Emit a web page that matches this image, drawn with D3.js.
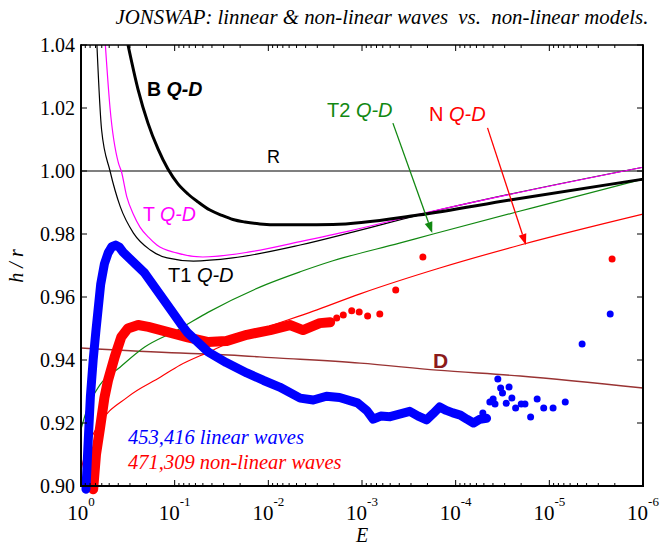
<!DOCTYPE html>
<html>
<head>
<meta charset="utf-8">
<script src="https://cdn.jsdelivr.net/npm/d3@7"></script>
<style>
body { margin: 0; background: #fff; }
svg { display: block; }
</style>
</head>
<body>
<div id="chart"></div>
<script>
// values: [log10(E), h/r]
var bQD  = [[-0.502,1.040],[-0.608,1.0260],[-0.715,1.0152],[-0.822,1.0070],[-0.928,1.0006],[-1.035,0.9959],[-1.142,0.9927],[-1.249,0.9902],[-1.377,0.9876],[-1.505,0.9859],[-1.622,0.9846],[-1.750,0.9838],[-1.910,0.9832],[-2.124,0.9829],[-2.34,0.9829],[-2.69,0.9830],[-3.60,0.9860],[-4.58,0.9908],[-6.00,0.9974]];
var tQD  = [[-0.26,1.040],[-0.31,1.020],[-0.40,1.0025],[-0.43,1.000],[-0.49,0.9917],[-0.56,0.9862],[-0.63,0.9822],[-0.72,0.9790],[-0.81,0.9765],[-1.02,0.9740],[-1.30,0.9727],[-1.80,0.9743],[-2.34,0.9776],[-2.87,0.9810],[-3.60,0.9862],[-6.00,1.0012]];
var t1QD = [[-0.17,1.040],[-0.22,1.013],[-0.31,1.000],[-0.42,0.9886],[-0.56,0.9803],[-0.74,0.9749],[-0.92,0.9724],[-1.20,0.9714],[-1.62,0.9724],[-2.34,0.9765],[-2.90,0.9806],[-3.60,0.9860],[-6.00,1.0012]];
var t2QD = [[0,0.918],[-0.06,0.924],[-0.20,0.932],[-0.42,0.9378],[-0.68,0.9441],[-1.03,0.9495],[-1.36,0.9552],[-1.98,0.9640],[-2.34,0.9680],[-2.69,0.9715],[-3.40,0.9771],[-3.76,0.9800],[-4.82,0.9883],[-6.00,0.9974]];
var nQD  = [[0,0.905],[-0.05,0.911],[-0.18,0.919],[-0.50,0.9283],[-0.85,0.9346],[-1.06,0.9384],[-1.36,0.9425],[-1.77,0.9480],[-2.48,0.9555],[-2.98,0.9610],[-3.83,0.9692],[-4.69,0.9765],[-6.00,0.9863]];
var dLine = [[0,0.9438],[-1.06,0.9422],[-1.36,0.9419],[-2.12,0.9406],[-2.98,0.9390],[-3.80,0.9368],[-4.69,0.9349],[-6.00,0.9311]];
var rLine = [[0,1.000],[-6,1.000]];

var linearWaves = [[-0.053,0.899],[-0.07,0.910],[-0.10,0.9283],[-0.13,0.940],[-0.16,0.9495],[-0.21,0.9640],[-0.25,0.9705],[-0.29,0.9740],[-0.33,0.9760],[-0.37,0.9765],[-0.41,0.9758],[-0.45,0.9742],[-0.68,0.9676],[-0.96,0.9559],[-1.06,0.9517],[-1.14,0.9486],[-1.36,0.9425],[-1.55,0.9392],[-1.77,0.9359],[-1.95,0.9335],[-2.12,0.9314],[-2.34,0.9279],[-2.48,0.9273],[-2.62,0.9285],[-2.76,0.9281],[-2.95,0.9264],[-3.05,0.9240],[-3.12,0.9212],[-3.20,0.9222],[-3.30,0.9220],[-3.42,0.9230],[-3.51,0.9237],[-3.60,0.9222],[-3.69,0.9210],[-3.76,0.9230],[-3.83,0.9251],[-3.90,0.9240],[-3.97,0.9232],[-4.05,0.9225],[-4.12,0.9212],[-4.19,0.9200],[-4.26,0.9212],[-4.33,0.9215]];
var linearDots = [[-4.29,0.9232],[-4.365,0.9267],[-4.40,0.9276],[-4.42,0.9260],[-4.45,0.9340],[-4.48,0.9311],[-4.50,0.9295],[-4.54,0.9263],[-4.57,0.9314],[-4.60,0.9279],[-4.64,0.9248],[-4.70,0.9260],[-4.74,0.9260],[-4.80,0.9219],[-4.87,0.9276],[-4.94,0.9248],[-5.04,0.9248],[-5.17,0.9267],[-5.35,0.9451],[-5.65,0.9546]];
var nonlinWaves = [[-0.13,0.899],[-0.16,0.910],[-0.20,0.9178],[-0.25,0.9280],[-0.29,0.9337],[-0.36,0.9410],[-0.43,0.9473],[-0.50,0.9500],[-0.61,0.9511],[-0.72,0.9505],[-0.85,0.9495],[-1.00,0.9483],[-1.14,0.9472],[-1.36,0.9457],[-1.55,0.9460],[-1.77,0.9480],[-2.02,0.9495],[-2.23,0.9511],[-2.37,0.9495],[-2.55,0.9517],[-2.66,0.9520]];
var nonlinDots = [[-2.73,0.9533],[-2.80,0.9543],[-2.89,0.9556],[-2.97,0.9552],[-3.06,0.9540],[-3.19,0.9546],[-3.36,0.9622],[-3.65,0.9727],[-5.67,0.9721]];

var xMajor = [1, 1e-1, 1e-2, 1e-3, 1e-4, 1e-5, 1e-6];
var xExp = ["0", "-1", "-2", "-3", "-4", "-5", "-6"];
var yTicks = [0.90, 0.92, 0.94, 0.96, 0.98, 1.00, 1.02, 1.04];

// arrows: [from, to] in [log10(E), h/r]
var arrowT2 = [[-3.33,1.0152],[-3.75,0.9803]];
var arrowN  = [[-4.34,1.0137],[-4.75,0.9765]];

var w = 662, h = 546;
var x0 = 81, x1 = 643, y0 = 45, y1 = 486;
var serif = "'Liberation Serif', 'Times New Roman', serif";
var sans = "'Liberation Sans', Arial, sans-serif";

var x = d3.scaleLog().domain([1, 1e-6]).range([x0, x1]);
var y = d3.scaleLinear().domain([0.90, 1.04]).range([y1, y0]);

function px(d) { return x(Math.pow(10, d[0])); }
function py(d) { return y(d[1]); }

var svg = d3.select("#chart").append("svg")
    .attr("width", w)
    .attr("height", h);

svg.append("defs").append("clipPath").attr("id", "plot")
    .append("rect").attr("x", x0).attr("y", y0).attr("width", x1 - x0).attr("height", y1 - y0);

var smooth = d3.line().x(px).y(py).curve(d3.curveMonotoneX);
var straight = d3.line().x(px).y(py);

var models = svg.append("g").attr("clip-path", "url(#plot)").attr("fill", "none");
models.append("path").attr("d", straight(rLine)).attr("stroke", "#000").attr("stroke-width", 1.2);
models.append("path").attr("d", smooth(dLine)).attr("stroke", "#993333").attr("stroke-width", 1.4);
models.append("path").attr("d", smooth(nQD)).attr("stroke", "#ff0000").attr("stroke-width", 1.2);
models.append("path").attr("d", smooth(t2QD)).attr("stroke", "#118811").attr("stroke-width", 1.2);
models.append("path").attr("d", smooth(t1QD)).attr("stroke", "#000").attr("stroke-width", 1.2);
models.append("path").attr("d", smooth(tQD)).attr("stroke", "#ff00ff").attr("stroke-width", 1.2);
models.append("path").attr("d", smooth(bQD)).attr("stroke", "#000").attr("stroke-width", 3);

// measured waves
svg.append("path").attr("d", straight(nonlinWaves))
    .attr("fill", "none").attr("stroke", "#ff0000").attr("stroke-width", 10)
    .attr("stroke-linecap", "round").attr("stroke-linejoin", "round");
svg.append("g").selectAll("circle").data(nonlinDots).enter().append("circle")
    .attr("cx", px).attr("cy", py).attr("r", 3.5).attr("fill", "#ff0000");
svg.append("path").attr("d", straight(linearWaves))
    .attr("fill", "none").attr("stroke", "#0000ff").attr("stroke-width", 9)
    .attr("stroke-linecap", "round").attr("stroke-linejoin", "round");
svg.append("g").selectAll("circle").data(linearDots).enter().append("circle")
    .attr("cx", px).attr("cy", py).attr("r", 3.5).attr("fill", "#0000ff");

// arrows
function arrow(a, color) {
    var ax = px(a[0]), ay = py(a[0]), bx = px(a[1]), by = py(a[1]);
    var ang = Math.atan2(by - ay, bx - ax), len = 11, half = 4;
    var cx = bx - len * Math.cos(ang), cy = by - len * Math.sin(ang);
    svg.append("line").attr("x1", ax).attr("y1", ay).attr("x2", cx).attr("y2", cy)
        .attr("stroke", color).attr("stroke-width", 1.3);
    svg.append("path")
        .attr("d", "M" + bx + "," + by +
            "L" + (cx + half * Math.sin(ang)) + "," + (cy - half * Math.cos(ang)) +
            "L" + (cx - half * Math.sin(ang)) + "," + (cy + half * Math.cos(ang)) + "Z")
        .attr("fill", color);
}
arrow(arrowT2, "#118811");
arrow(arrowN, "#ff0000");

// axes: minor + major ticks pointing inside
var minor = [];
for (var k = 0; k < 6; k++) {
    for (var m = 2; m <= 9; m++) minor.push(m * Math.pow(10, -k - 1));
}
function xTicks(g, vals, len, dir) {
    g.selectAll("line.t").data(vals).enter().append("line")
        .attr("x1", function(d) { return x(d); }).attr("x2", function(d) { return x(d); })
        .attr("y1", 0).attr("y2", dir * len)
        .attr("stroke", "#000").attr("stroke-width", 1);
}
var gb = svg.append("g").attr("transform", "translate(0," + y1 + ")");
xTicks(gb, minor, 3, -1);
xTicks(gb, xMajor, 6, -1);
var gt = svg.append("g").attr("transform", "translate(0," + y0 + ")");
xTicks(gt, minor, 3, 1);
xTicks(gt, xMajor, 6, 1);

svg.append("g").selectAll("line").data(yTicks).enter().append("line")
    .attr("x1", x0).attr("x2", x0 + 6)
    .attr("y1", function(d) { return y(d); }).attr("y2", function(d) { return y(d); })
    .attr("stroke", "#000");
svg.append("g").selectAll("line").data(yTicks).enter().append("line")
    .attr("x1", x1).attr("x2", x1 - 6)
    .attr("y1", function(d) { return y(d); }).attr("y2", function(d) { return y(d); })
    .attr("stroke", "#000");

// frame
svg.append("line").attr("x1", x0).attr("x2", x1).attr("y1", y0).attr("y2", y0).attr("stroke", "#000").attr("stroke-width", 1.5);
svg.append("line").attr("x1", x0).attr("x2", x1).attr("y1", y1).attr("y2", y1).attr("stroke", "#000").attr("stroke-width", 2);
svg.append("line").attr("x1", x0).attr("x2", x0).attr("y1", y0 - 0.75).attr("y2", y1 + 1).attr("stroke", "#000").attr("stroke-width", 2);
svg.append("line").attr("x1", x1).attr("x2", x1).attr("y1", y0 - 0.75).attr("y2", y1 + 1).attr("stroke", "#000").attr("stroke-width", 2);

// tick labels
svg.append("g").selectAll("text").data(yTicks).enter().append("text")
    .attr("x", 75).attr("y", function(d) { return y(d) + 7; })
    .attr("text-anchor", "end")
    .attr("font-family", serif).attr("font-size", 20)
    .text(function(d) { return d.toFixed(2); });

var xl = svg.append("g").selectAll("text").data(xMajor).enter().append("text")
    .attr("x", function(d) { return x(d); }).attr("y", 520)
    .attr("text-anchor", "middle")
    .attr("font-family", serif).attr("font-size", 21);
xl.append("tspan").text("10");
xl.append("tspan").attr("dy", -14).attr("font-size", 13).text(function(d, i) { return xExp[i]; });

// axis titles and title
svg.append("text").attr("x", 362).attr("y", 542).attr("text-anchor", "middle")
    .attr("font-family", serif).attr("font-style", "italic").attr("font-size", 20).text("E");
svg.append("text").attr("transform", "translate(23,266) rotate(-90)").attr("text-anchor", "middle")
    .attr("font-family", serif).attr("font-style", "italic").attr("font-size", 20)
    .style("white-space", "pre").text("h / r");
svg.append("text").attr("x", 382).attr("y", 24).attr("text-anchor", "middle")
    .attr("font-family", serif).attr("font-style", "italic").attr("font-size", 20.8)
    .style("white-space", "pre")
    .text("JONSWAP: linnear & non-linear waves  vs.  non-linear models.");

// curve labels
function label(tx, ty, first, rest, color, size, bold) {
    var t = svg.append("text").attr("x", tx).attr("y", ty)
        .attr("font-family", sans).attr("font-size", size).attr("fill", color)
        .style("white-space", "pre");
    if (bold) t.attr("font-weight", "bold");
    t.append("tspan").text(first);
    if (rest) t.append("tspan").attr("font-style", "italic").text(rest);
}
label(147, 96, "B ", "Q-D", "#000", 19.5, true);
label(267, 163, "R", null, "#000", 18, false);
label(143, 221, "T ", "Q-D", "#ff00ff", 19.5, false);
label(168, 282, "T1 ", "Q-D", "#000", 20, false);
label(327, 117, "T2 ", "Q-D", "#118811", 20, false);
label(429, 121, "N ", "Q-D", "#ff0000", 20, false);
label(433, 368, "D", null, "#8b1a1a", 21, true);

// legend
svg.append("text").attr("x", 128).attr("y", 444)
    .attr("font-family", serif).attr("font-style", "italic").attr("font-size", 20.5)
    .attr("fill", "#0000ff").text("453,416 linear waves");
svg.append("text").attr("x", 128).attr("y", 469)
    .attr("font-family", serif).attr("font-style", "italic").attr("font-size", 20.5)
    .attr("fill", "#ff0000").text("471,309 non-linear waves");
</script>
</body>
</html>
